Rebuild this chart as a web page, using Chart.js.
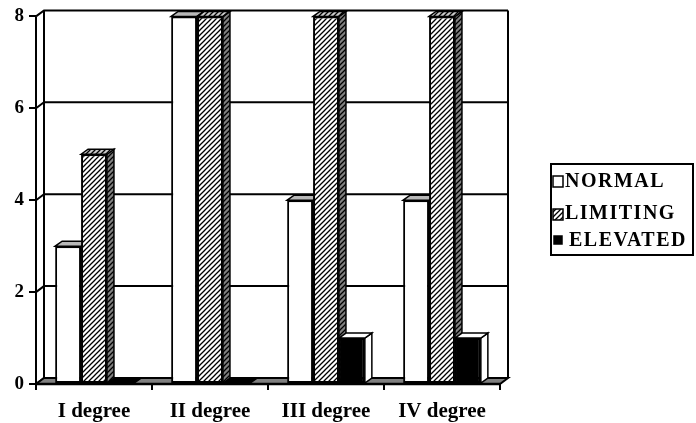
<!DOCTYPE html>
<html>
<head>
<meta charset="utf-8">
<script src="https://cdn.jsdelivr.net/npm/chart.js@4/dist/chart.umd.min.js"></script>
<style>
  html, body { margin: 0; padding: 0; background: #fff; }
  #wrap { width: 696px; height: 423px; }
</style>
</head>
<body>
<div id="wrap"><canvas id="c" width="696" height="423"></canvas></div>
<script>
// Data
const categories = ['I degree', 'II degree', 'III degree', 'IV degree'];
const seriesNames = ['NORMAL', 'LIMITING', 'ELEVATED'];
const normalValues = [3, 8, 4, 4];
const limitingValues = [5, 8, 8, 8];
const elevatedValues = [0, 0, 1, 1];
const yTickValues = [0, 2, 4, 6, 8];

const FONT = '"Liberation Serif", "Times New Roman", serif';
const canvas = document.getElementById('c');
const mainCtx = canvas.getContext('2d');

// Diagonal "/" hatching tile
function hatch(bg, fg, size, lw) {
  const t = document.createElement('canvas');
  t.width = t.height = size;
  const g = t.getContext('2d');
  g.fillStyle = bg;
  g.fillRect(0, 0, size, size);
  g.strokeStyle = fg;
  g.lineWidth = lw;
  g.beginPath();
  g.moveTo(-1, size + 1); g.lineTo(size + 1, -1);
  g.moveTo(-1, 1); g.lineTo(1, -1);
  g.moveTo(size - 1, size + 1); g.lineTo(size + 1, size - 1);
  g.stroke();
  return mainCtx.createPattern(t, 'repeat');
}

const hatchFront = hatch('#ffffff', '#000000', 5, 1.3);
const hatchTop = hatch('#c8c8c8', '#000000', 5, 1.3);
const hatchSide = hatch('#808080', '#000000', 5, 1.3);

// Per-series face styles: front, top, side
const faces = [
  { front: '#ffffff', top: '#b8b8b8', side: '#808080' },
  { front: hatchFront, top: hatchTop, side: hatchSide },
  { front: '#000000', top: '#ffffff', side: '#ffffff' }
];

// Depth offsets of the 3D effect
const BAR_DX = 7, BAR_DY = -5;
const WALL_DX = 8, WALL_DY = -6;

function poly(ctx, pts, fill) {
  ctx.beginPath();
  ctx.moveTo(pts[0][0], pts[0][1]);
  for (let i = 1; i < pts.length; i++) ctx.lineTo(pts[i][0], pts[i][1]);
  ctx.closePath();
  if (fill) { ctx.fillStyle = fill; ctx.fill(); }
  ctx.stroke();
}

function drawWalls(chart) {
  const { ctx, chartArea: a, scales: { y } } = chart;
  ctx.save();
  ctx.strokeStyle = '#000';
  ctx.lineWidth = 2;
  // back wall gridlines joined to the front axis ticks
  yTickValues.forEach(v => {
    const py = y.getPixelForValue(v);
    ctx.beginPath();
    ctx.moveTo(a.left, py);
    ctx.lineTo(a.left + WALL_DX, py + WALL_DY);
    ctx.lineTo(a.right + WALL_DX, py + WALL_DY);
    ctx.stroke();
  });
  // wall edges
  ctx.beginPath();
  ctx.moveTo(a.left + WALL_DX, a.top + WALL_DY);
  ctx.lineTo(a.left + WALL_DX, a.bottom + WALL_DY);
  ctx.moveTo(a.right + WALL_DX, a.top + WALL_DY);
  ctx.lineTo(a.right + WALL_DX, a.bottom + WALL_DY);
  ctx.moveTo(a.left, a.top);
  ctx.lineTo(a.left, a.bottom);
  ctx.stroke();
  // floor
  poly(ctx, [
    [a.left, a.bottom], [a.left + WALL_DX, a.bottom + WALL_DY],
    [a.right + WALL_DX, a.bottom + WALL_DY], [a.right, a.bottom]
  ], '#808080');
  ctx.beginPath();
  ctx.lineWidth = 2.5;
  ctx.moveTo(a.left - 1, a.bottom);
  ctx.lineTo(a.right, a.bottom);
  ctx.stroke();
  ctx.restore();
}

function drawDepthFaces(ctx, el, f, index) {
  const p = el.getProps(['x', 'y', 'base', 'width'], true);
  const l = p.x - p.width / 2, r = p.x + p.width / 2;
  const top = Math.min(p.y, p.base), bot = Math.max(p.y, p.base);
  const flat = bot - top < 1;
  ctx.save();
  ctx.strokeStyle = '#000';
  ctx.lineWidth = 1.5;
  if (!flat) {
    poly(ctx, [[r, top], [r + BAR_DX, top + BAR_DY], [r + BAR_DX, bot + BAR_DY], [r, bot]], f.side);
  }
  poly(ctx, [[l, top], [l + BAR_DX, top + BAR_DY], [r + BAR_DX, top + BAR_DY], [r, top]],
    flat ? (index === 0 ? '#808080' : f.front) : f.top);
  ctx.restore();
}

// Draws walls, then each series left to right: depth faces first, then the bar element itself
const box3d = {
  id: 'box3d',
  beforeDatasetsDraw(chart) {
    drawWalls(chart);
    const { ctx, chartArea } = chart;
    chart.data.datasets.forEach((ds, i) => {
      const meta = chart.getDatasetMeta(i);
      meta.data.forEach(el => {
        drawDepthFaces(ctx, el, faces[i], i);
        el.draw(ctx, chartArea);
      });
    });
  },
  beforeDatasetDraw() {
    // bars already drawn in series order above
    return false;
  }
};

// Legend drawn at the right with a framed box
const sideLegend = {
  id: 'sideLegend',
  afterDraw(chart) {
    const { ctx } = chart;
    ctx.save();
    ctx.strokeStyle = '#000';
    ctx.lineWidth = 2;
    ctx.strokeRect(551, 164, 142, 91);
    ctx.font = 'bold 20px ' + FONT;
    if ('letterSpacing' in ctx) ctx.letterSpacing = '1.5px';
    ctx.fillStyle = '#000';
    ctx.textBaseline = 'alphabetic';
    const rows = [
      { y: 187, box: [553, 176, 10, 11], tx: 565 },
      { y: 219, box: [553, 209, 10, 11], tx: 565 },
      { y: 246, box: [554, 236, 8, 8], tx: 569 }
    ];
    chart.data.datasets.forEach((ds, i) => {
      const r = rows[i];
      ctx.lineWidth = 1.5;
      ctx.fillStyle = faces[i].front;
      ctx.fillRect(r.box[0], r.box[1], r.box[2], r.box[3]);
      ctx.strokeRect(r.box[0], r.box[1], r.box[2], r.box[3]);
      ctx.fillStyle = '#000';
      ctx.fillText(ds.label, r.tx, r.y);
    });
    ctx.restore();
  }
};

new Chart(canvas, {
  type: 'bar',
  data: {
    labels: categories,
    datasets: [
      { label: seriesNames[0], data: normalValues, backgroundColor: faces[0].front },
      { label: seriesNames[1], data: limitingValues, backgroundColor: faces[1].front },
      { label: seriesNames[2], data: elevatedValues, backgroundColor: faces[2].front }
    ].map(d => Object.assign(d, {
      borderColor: '#000', borderWidth: 2, borderSkipped: false,
      barPercentage: 1, categoryPercentage: 0.67
    }))
  },
  options: {
    responsive: false,
    animation: false,
    devicePixelRatio: 1,
    layout: { padding: { left: 0, top: 15, right: 196, bottom: 0 } },
    plugins: { legend: { display: false }, tooltip: { enabled: false } },
    scales: {
      x: {
        grid: { offset: true, drawOnChartArea: false, drawTicks: true, tickLength: 6, color: '#000', lineWidth: 2 },
        border: { display: false },
        ticks: { color: '#000', font: { family: FONT, weight: 'bold', size: 21 }, padding: 9, maxRotation: 0, autoSkip: false },
        afterFit(s) { s.height = 39; }
      },
      y: {
        min: 0, max: 8,
        afterBuildTicks(s) { s.ticks = yTickValues.map(v => ({ value: v })); },
        grid: { drawOnChartArea: false, drawTicks: true, tickLength: 7, color: '#000', lineWidth: 2 },
        border: { display: false },
        ticks: { color: '#000', font: { family: FONT, weight: 'bold', size: 19 }, padding: 5 },
        afterFit(s) { s.width = 36; }
      }
    }
  },
  plugins: [box3d, sideLegend]
});
</script>
</body>
</html>
